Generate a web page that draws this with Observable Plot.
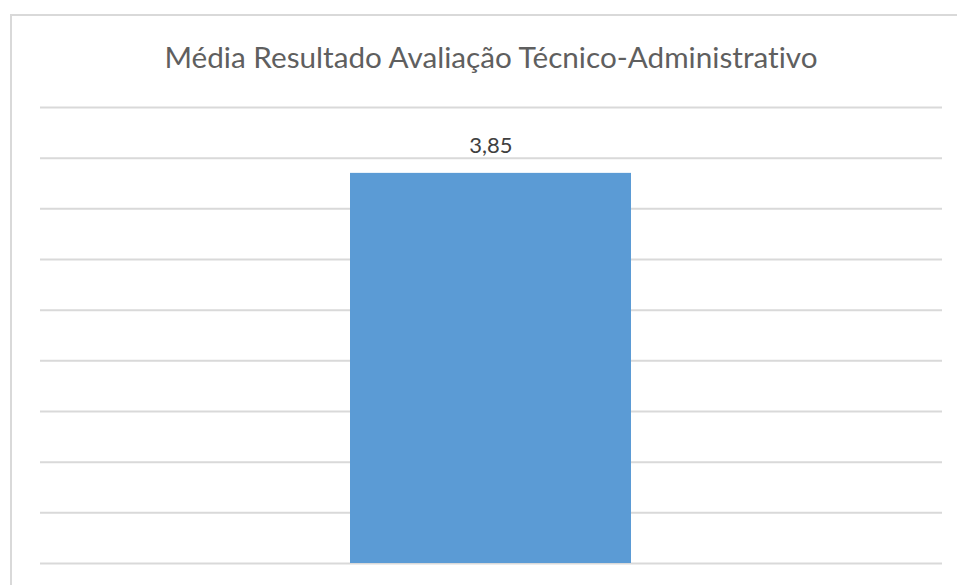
<!DOCTYPE html>
<html>
<head>
<meta charset="utf-8">
<script src="https://cdn.jsdelivr.net/npm/d3@7"></script>
<script src="https://cdn.jsdelivr.net/npm/@observablehq/plot@0.6"></script>
<style>
  html, body { margin: 0; padding: 0; background: #fff; }
  #frame { position: absolute; left: 10px; top: 14px; width: 960px; height: 580px;
           border: 2px solid #D9D9D9; box-sizing: border-box; }
  #title { position: absolute; left: 0; top: 39px; width: 982px; text-align: center;
           font-family: Lato, sans-serif; font-size: 29.7px; color: #5f5f5f; line-height: 36px;
           white-space: nowrap; font-variant-ligatures: none; font-feature-settings: "liga" 0, "dlig" 0; }
  #chart { position: absolute; left: 0; top: 90px; }
</style>
</head>
<body>
<div id="frame"></div>
<div id="title">Média Resultado Avaliação Técnico-Administrativo</div>
<div id="chart"></div>
<script>
const categories = ["Técnico-Administrativo"];
const values = [3.85];
const gridTicks = [0, 0.5, 1, 1.5, 2, 2.5, 3, 3.5, 4, 4.5];

const data = categories.map((c, i) => ({category: c, value: values[i]}));
const fmt = v => v.toFixed(2).replace(".", ",");

const plot = Plot.plot({
  width: 957,
  height: 490,
  marginLeft: 40,
  marginRight: 15,
  marginTop: 17,
  marginBottom: 17,
  style: {fontFamily: "Lato, sans-serif", background: "transparent"},
  x: {type: "band", domain: categories, padding: 0.524, axis: null},
  y: {domain: [0, 4.5], axis: null},
  marks: [
    Plot.ruleY(gridTicks, {stroke: "#D9D9D9", strokeWidth: 2}),
    Plot.barY(data, {x: "category", y: "value", fill: "#5B9BD5"}),
    Plot.text(data, {x: "category", y: "value", text: d => fmt(d.value),
      lineAnchor: "bottom", dy: -20, fontSize: 22, fill: "#404040"})
  ]
});
document.getElementById("chart").appendChild(plot);
</script>
</body>
</html>
